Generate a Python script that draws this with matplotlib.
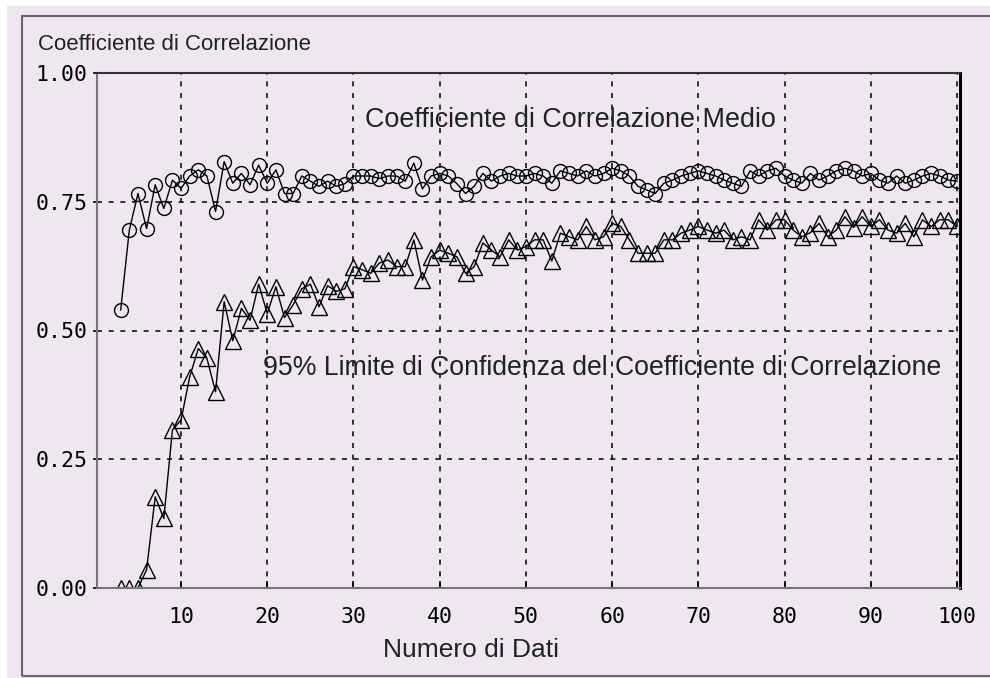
import matplotlib
matplotlib.use("Agg")
import matplotlib.pyplot as plt
from matplotlib import font_manager
from matplotlib.patches import Rectangle

# numero di dati (x) e valori
n_dati = list(range(3, 101))

coeff_medio = [
    0.54, 0.695, 0.766, 0.698, 0.783, 0.737, 0.792, 0.776, 0.80, 0.812,
    0.80, 0.731, 0.828, 0.786, 0.805, 0.783, 0.821, 0.786, 0.812, 0.766,
    0.766, 0.80, 0.79, 0.78, 0.79, 0.78, 0.785, 0.80, 0.80, 0.80,
    0.795, 0.80, 0.80, 0.79, 0.825, 0.775, 0.80, 0.805, 0.80, 0.785,
    0.766, 0.78, 0.805, 0.79, 0.80, 0.805, 0.80, 0.80, 0.805, 0.80,
    0.786, 0.81, 0.805, 0.80, 0.81, 0.80, 0.805, 0.815, 0.81, 0.80,
    0.78, 0.773, 0.766, 0.786, 0.792, 0.80, 0.805, 0.81, 0.805, 0.80,
    0.792, 0.786, 0.78, 0.81, 0.80, 0.81, 0.815, 0.80, 0.792, 0.786,
    0.805, 0.792, 0.80, 0.81, 0.815, 0.81, 0.80, 0.805, 0.792, 0.786,
    0.80, 0.786, 0.792, 0.80, 0.805, 0.80, 0.792, 0.79,
]

limite_95 = [
    0.0, 0.0, 0.0, 0.035, 0.177, 0.135, 0.307, 0.326, 0.41, 0.465,
    0.446, 0.381, 0.556, 0.48, 0.543, 0.52, 0.59, 0.533, 0.585, 0.525,
    0.55, 0.581, 0.59, 0.546, 0.587, 0.576, 0.581, 0.624, 0.618, 0.611,
    0.631, 0.637, 0.624, 0.624, 0.676, 0.598, 0.643, 0.656, 0.65, 0.643,
    0.611, 0.624, 0.67, 0.656, 0.643, 0.676, 0.656, 0.663, 0.676, 0.676,
    0.635, 0.689, 0.682, 0.676, 0.702, 0.676, 0.682, 0.708, 0.702, 0.676,
    0.65, 0.65, 0.65, 0.676, 0.676, 0.689, 0.695, 0.702, 0.695, 0.689,
    0.695, 0.676, 0.682, 0.676, 0.715, 0.695, 0.715, 0.715, 0.695, 0.682,
    0.69, 0.708, 0.682, 0.695, 0.721, 0.70, 0.721, 0.702, 0.715, 0.695,
    0.689, 0.708, 0.682, 0.715, 0.702, 0.715, 0.715, 0.702, 0.708,
][:len(n_dati)]

x_ticks = [10, 20, 30, 40, 50, 60, 70, 80, 90, 100]
y_ticks = [0.0, 0.25, 0.5, 0.75, 1.0]


def pick_font(names):
    for name in names:
        try:
            font_manager.findfont(name, fallback_to_default=False)
            return name
        except Exception:
            pass
    return "DejaVu Sans"


narrow = pick_font(["Liberation Sans Narrow", "Liberation Sans"])
sans = pick_font(["Liberation Sans", "DejaVu Sans"])
mono = "DejaVu Sans Mono"

bg = "#ede8ef"
W, H = 990, 678
fig = plt.figure(figsize=(9.9, 6.78), dpi=100, facecolor=bg)

# margine bianco e cornice esterna
fig.patches.append(Rectangle((0, 1 - 6 / H), 1, 6 / H, transform=fig.transFigure,
                             facecolor="white", edgecolor="none", zorder=0))
fig.patches.append(Rectangle((0, 0), 7 / W, 1, transform=fig.transFigure,
                             facecolor="white", edgecolor="none", zorder=0))
fig.patches.append(Rectangle((22 / W, 2 / H), 1.2, 1 - 18 / H, transform=fig.transFigure,
                             facecolor="none", edgecolor="#666666", lw=1.5, zorder=1))

ax = fig.add_axes([97 / W, 1 - 588 / H, (960 - 97) / W, (588 - 73) / H])
ax.set_facecolor(bg)

ax.plot(n_dati, limite_95, color="black", lw=1.0, marker="^", markersize=11,
        markerfacecolor="none", markeredgecolor="black", markeredgewidth=1.0)
ax.plot(n_dati, coeff_medio, color="black", lw=1.0, marker="o", markersize=10,
        markerfacecolor="none", markeredgecolor="black", markeredgewidth=1.0)

ax.set_xlim(0.25, 100.35)
ax.set_ylim(0, 1)
ax.set_xticks(x_ticks)
ax.set_yticks(y_ticks)
ax.set_xticklabels([str(v) for v in x_ticks], fontfamily=mono, fontsize=15.5)
ax.set_yticklabels(["%.2f" % v for v in y_ticks], fontfamily=mono, fontsize=15.5)
ax.tick_params(axis="x", direction="in", length=5, width=1.2, pad=14)
ax.tick_params(axis="y", direction="out", length=3, width=1.2, pad=4)

ax.grid(True, color="#111111", linestyle=(0, (3, 4)), linewidth=1.2)
ax.set_axisbelow(True)

ax.spines["top"].set_color("#333333")
ax.spines["top"].set_linewidth(1.5)
ax.spines["right"].set_color("black")
ax.spines["right"].set_linewidth(2.2)
ax.spines["left"].set_color("#777777")
ax.spines["left"].set_linewidth(1.5)
ax.spines["bottom"].set_color("#777777")
ax.spines["bottom"].set_linewidth(1.5)

ax.text(0.3105, 0.909, "Coefficiente di Correlazione Medio", transform=ax.transAxes,
        fontfamily=sans, fontsize=19.4, color="#222222", va="center", ha="left")
ax.text(0.1924, 0.427, "95% Limite di Confidenza del Coefficiente di Correlazione",
        transform=ax.transAxes, fontfamily=sans, fontsize=19.2, color="#222222",
        va="center", ha="left")

fig.text(38 / W, 1 - 45 / H, "Coefficiente di Correlazione", fontfamily=narrow,
         fontsize=16, color="#222222", va="center", ha="left")
fig.text(471 / W, 1 - 650 / H, "Numero di Dati", fontfamily=narrow,
         fontsize=19, color="#222222", va="center", ha="center")

fig.savefig("out.png", dpi=100, facecolor=bg)
